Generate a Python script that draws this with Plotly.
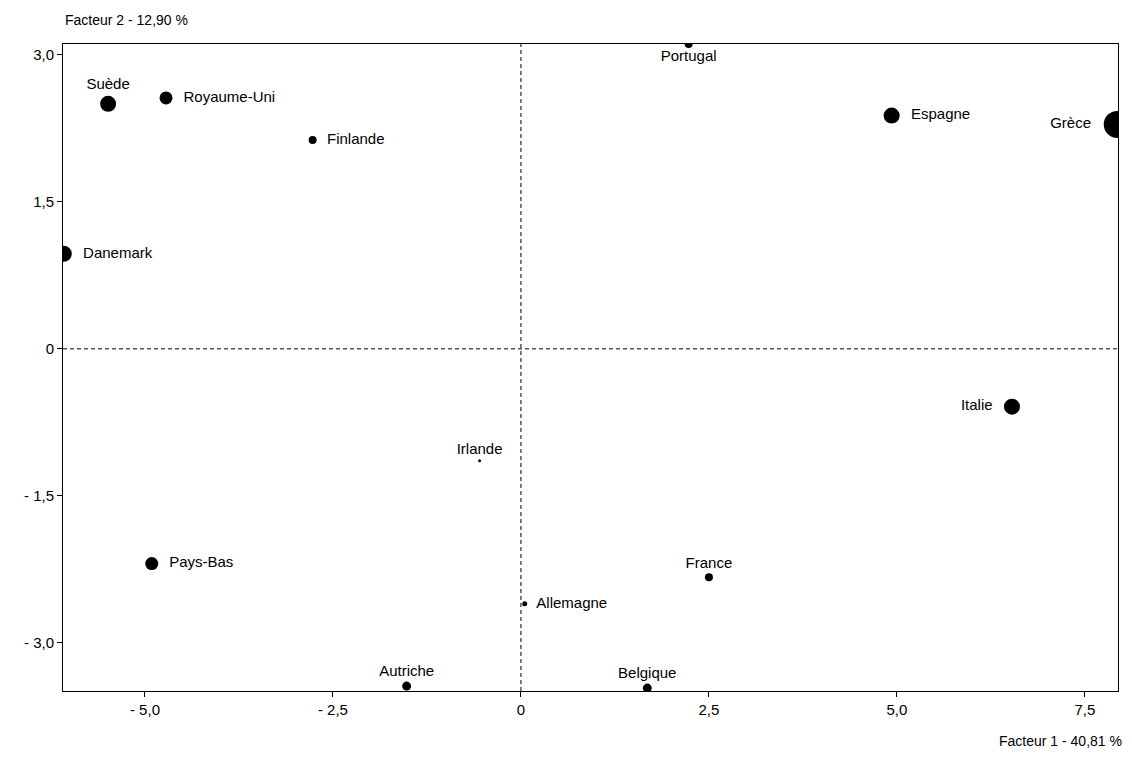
import plotly.graph_objects as go

pays = ['Suède', 'Royaume-Uni', 'Finlande', 'Danemark', 'Portugal', 'Espagne', 'Grèce',
        'Italie', 'Irlande', 'Pays-Bas', 'France', 'Allemagne', 'Autriche', 'Belgique']
f1 = [-5.49, -4.72, -2.77, -6.08, 2.23, 4.93, 7.93, 6.53, -0.55, -4.91, 2.50, 0.05, -1.52, 1.68]
f2 = [2.50, 2.56, 2.13, 0.97, 3.11, 2.38, 2.29, -0.59, -1.14, -2.19, -2.33, -2.60, -3.44, -3.46]
taille = [16, 13, 8, 16, 8, 16, 27, 16, 3, 13, 8, 5, 9, 9]
position = ['top center', 'middle right', 'middle right', 'middle right', 'bottom center',
            'middle right', 'middle left', 'middle left', 'top center', 'middle right',
            'top center', 'middle right', 'top center', 'top center']

x_ticks = [-5, -2.5, 0, 2.5, 5, 7.5]
x_labels = ['- 5,0', '- 2,5', '0', '2,5', '5,0', '7,5']
y_ticks = [-3, -1.5, 0, 1.5, 3]
y_labels = ['- 3,0', '- 1,5', '0', '1,5', '3,0']

fig = go.Figure(go.Scatter(
    x=f1, y=f2, mode='markers+text', text=['  ' + p + '  ' if 'middle' in pos else p
                                           for p, pos in zip(pays, position)],
    textposition=position,
    marker=dict(color='black', size=taille, opacity=1, line=dict(width=0)),
    textfont=dict(size=15, color='black'),
))

axe = dict(showgrid=False, zeroline=False, showline=True, linecolor='black', mirror=True,
           ticks='outside', ticklen=5, tickcolor='black', tickfont=dict(size=15, color='black'))
fig.update_xaxes(range=[-6.09, 7.94], tickvals=x_ticks, ticktext=x_labels, **axe)
fig.update_yaxes(range=[-3.49, 3.11], tickvals=y_ticks, ticktext=y_labels, **axe)

fig.add_shape(type='line', x0=0, x1=0, y0=0, y1=1, xref='x', yref='paper',
              line=dict(color='black', width=1, dash='4px,3px'))
fig.add_shape(type='line', x0=0, x1=1, y0=0, y1=0, xref='paper', yref='y',
              line=dict(color='black', width=1, dash='4px,3px'))

fig.add_annotation(text='Facteur 2 - 12,90 %', xref='paper', yref='paper', x=0, y=1,
                   yshift=24, xanchor='left', yanchor='middle', showarrow=False,
                   font=dict(size=14, color='black'))
fig.add_annotation(text='Facteur 1 - 40,81 %', xref='paper', yref='paper', x=1, y=0,
                   yshift=-50, xshift=6, xanchor='right', yanchor='middle', showarrow=False,
                   font=dict(size=14, color='black'))

# la page ajoute 8 px de marge autour de la figure
fig.update_layout(width=1116, height=744, margin=dict(l=55, r=6, t=36, b=61),
                  plot_bgcolor='white', paper_bgcolor='white', showlegend=False,
                  font=dict(family='Liberation Sans, Arial, sans-serif'))

fig.write_html('out.html')
